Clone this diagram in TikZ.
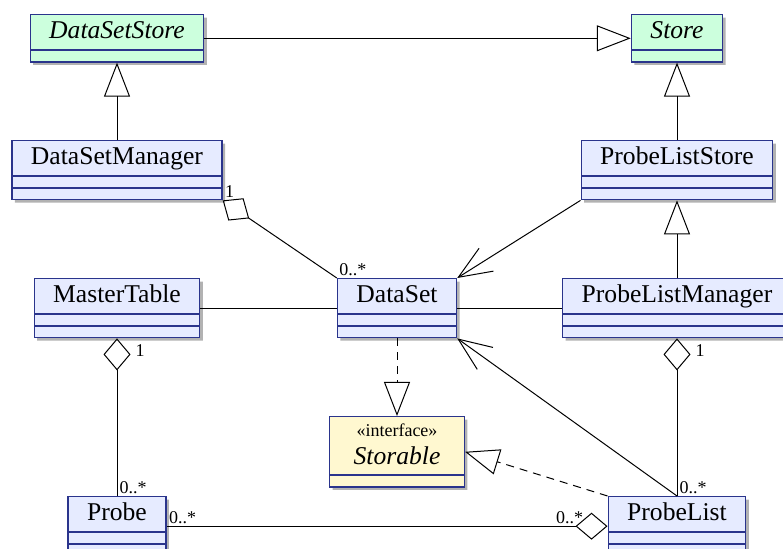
\documentclass[tikz,border=0pt]{standalone}
\usepackage{fontspec}
\setmainfont{Liberation Serif}
\usetikzlibrary{arrows.meta,shapes.multipart,shadows}

\definecolor{classblue}{RGB}{230,235,255}
\definecolor{abstractgreen}{RGB}{204,255,221}
\definecolor{ifaceyellow}{RGB}{255,248,208}
\definecolor{umlborder}{RGB}{42,52,140}

\newcommand{\emptypart}{\rule{0pt}{3.2pt}}

\begin{document}
\begin{tikzpicture}[x=0.5pt,y=-0.5pt,
  umlclass/.style={rectangle split,rectangle split parts=3,anchor=north,
    draw=umlborder,line width=0.7pt,fill=classblue,
    inner xsep=9.5pt,inner ysep=1pt,
    font=\fontsize{12.8}{15}\selectfont,
    drop shadow={shadow xshift=1.5pt,shadow yshift=-1.5pt,fill=black!30,opacity=1}},
  abstractclass/.style={umlclass,rectangle split parts=2,fill=abstractgreen},
  interface/.style={umlclass,rectangle split parts=2,fill=ifaceyellow,
    inner xsep=12pt,align=center},
  mult/.style={font=\fontsize{9}{10}\selectfont,inner sep=1pt},
  inherit/.style={-{Triangle[open,length=17pt,width=13pt]},line width=0.5pt},
  realize/.style={inherit,dash pattern=on 4pt off 3pt},
  aggregation/.style={{Diamond[open,length=16pt,width=13.5pt]}-,line width=0.5pt},
  navigable/.style={-{Straight Barb[length=16.5pt,width=13.5pt]},line width=0.5pt},
  assoc/.style={line width=0.5pt}]
  \useasboundingbox (0,0) rectangle (783,549);

  \node[abstractclass] (DataSetStore) at (117,14)
    {\strut\textit{DataSetStore}\nodepart{second}\emptypart};
  \node[abstractclass] (Store) at (677,14)
    {\strut\textit{Store}\nodepart{second}\emptypart};
  \node[umlclass] (DataSetManager) at (117,140)
    {\strut DataSetManager\nodepart{second}\emptypart\nodepart{third}\emptypart};
  \node[umlclass] (ProbeListStore) at (677,140)
    {\strut ProbeListStore\nodepart{second}\emptypart\nodepart{third}\emptypart};
  \node[umlclass] (MasterTable) at (117,278)
    {\strut MasterTable\nodepart{second}\emptypart\nodepart{third}\emptypart};
  \node[umlclass] (DataSet) at (397,278)
    {\strut DataSet\nodepart{second}\emptypart\nodepart{third}\emptypart};
  \node[umlclass] (ProbeListManager) at (677,278)
    {\strut ProbeListManager\nodepart{second}\emptypart\nodepart{third}\emptypart};
  \node[interface] (Storable) at (397,416)
    {\rule{0pt}{8.5pt}{\fontsize{9}{10}\selectfont «interface»}\\[-1pt]\textit{Storable}\rule[-4pt]{0pt}{4pt}%
     \nodepart{second}\emptypart};
  \node[umlclass] (Probe) at (117,496)
    {\strut Probe\nodepart{second}\emptypart\nodepart{third}\emptypart};
  \node[umlclass] (ProbeList) at (677,496)
    {\strut ProbeList\nodepart{second}\emptypart\nodepart{third}\emptypart};

  \draw[inherit] (DataSetStore) -- (Store);
  \draw[inherit] (DataSetManager) -- (DataSetStore);
  \draw[inherit] (ProbeListStore) -- (Store);
  \draw[inherit] (ProbeListManager) -- (ProbeListStore);
  \draw[aggregation] (DataSetManager.south east)
    -- node[mult,pos=0,above right] {1} node[mult,pos=1,above right] {0..*}
    (DataSet.north west);
  \draw[navigable] (ProbeListStore.south west) -- (DataSet.north east);
  \draw[assoc] (MasterTable) -- (DataSet);
  \draw[assoc] (DataSet) -- (ProbeListManager);
  \draw[realize] (DataSet) -- (Storable);
  \draw[realize] (ProbeList.north west) -- (Storable.east);
  \draw[navigable] (ProbeList.north) -- (DataSet.south east);
  \draw[aggregation] (MasterTable)
    -- node[mult,pos=0.075,right=8pt] {1} node[mult,pos=1,above right] {0..*}
    (Probe);
  \draw[aggregation] (ProbeListManager)
    -- node[mult,pos=0.075,right=8pt] {1} node[mult,pos=1,above right] {0..*}
    (ProbeList);
  \draw[aggregation] (ProbeList)
    -- node[mult,pos=0.086,above] {0..*} node[mult,pos=1,above right] {0..*}
    (Probe);
\end{tikzpicture}
\end{document}
